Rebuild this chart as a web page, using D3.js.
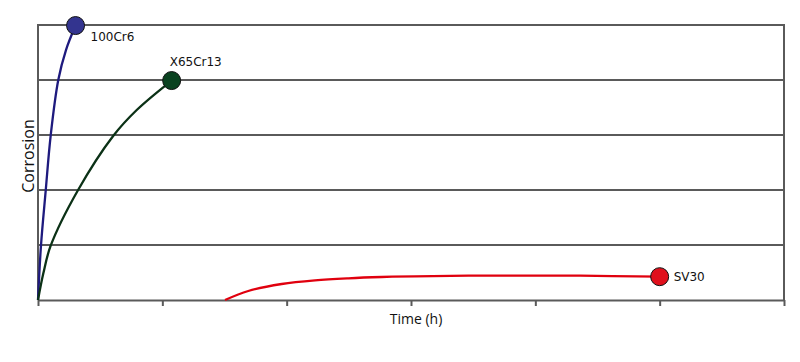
<!DOCTYPE html>
<html><head><meta charset="utf-8">
<script src="https://cdn.jsdelivr.net/npm/d3@7"></script>
<style>body{margin:0;background:#fff}svg{display:block}</style>
</head><body><svg id="c" width="800" height="362"></svg>
<script>
// Data (x: time units, y: corrosion units)
const seriesNames = ["100Cr6", "X65Cr13", "SV30"];
const x100Cr6 = [0, 0.024, 0.062, 0.102, 0.163, 0.225, 0.302];
const y100Cr6 = [0, 0.99, 1.99, 2.99, 4, 4.545, 4.99];
const xX65Cr13 = [0, 0.043, 0.102, 0.319, 0.606, 0.794, 1.075];
const yX65Cr13 = [0, 0.485, 0.987, 1.987, 2.987, 3.455, 3.99];
const xSV30 = [1.504, 1.691, 1.960, 2.228, 2.496, 2.764, 3.032, 3.716, 4.36, 5.0];
const ySV30 = [0, 0.164, 0.291, 0.358, 0.395, 0.418, 0.431, 0.445, 0.442, 0.424];
const xTicks = [0, 1, 2, 3, 4, 5, 6];
const yGrid = [0, 1, 2, 3, 4, 5];

const lineColors = ["#1e1a7e", "#0b3116", "#e0000e"];
const markerColors = ["#33348f", "#0a4220", "#e0101c"];

const svg = d3.select("#c");
const x = d3.scaleLinear().domain([0, 6]).range([38, 784]);
const y = d3.scaleLinear().domain([0, 5]).range([300, 25]);
const grey = "#5a5a5a";

// horizontal grid (includes top border)
svg.append("g").selectAll("line").data(yGrid.slice(1)).join("line")
  .attr("x1", x(0)).attr("x2", x(6))
  .attr("y1", d => y(d)).attr("y2", d => y(d))
  .attr("stroke", grey).attr("stroke-width", 2);

// bottom axis
const xAxis = svg.append("g").attr("transform", `translate(0,${y(0)})`)
  .call(d3.axisBottom(x).tickValues(xTicks).tickSize(6).tickSizeOuter(0).tickFormat(""));
xAxis.select(".domain").attr("stroke", grey).attr("stroke-width", 2);
xAxis.selectAll(".tick line").attr("stroke", grey).attr("stroke-width", 2);

// left & right borders
[0, 6].forEach(v => {
  svg.append("line").attr("x1", x(v)).attr("x2", x(v))
    .attr("y1", y(5) - 1).attr("y2", y(0))
    .attr("stroke", grey).attr("stroke-width", 2);
});

const data = [
  x100Cr6.map((d, i) => [d, y100Cr6[i]]),
  xX65Cr13.map((d, i) => [d, yX65Cr13[i]]),
  xSV30.map((d, i) => [d, ySV30[i]])
];

const line = d3.line().x(d => x(d[0])).y(d => y(d[1])).curve(d3.curveCatmullRom.alpha(0.5));
data.forEach((pts, i) => {
  svg.append("path").attr("d", line(pts)).attr("fill", "none")
    .attr("stroke", lineColors[i]).attr("stroke-width", 2.3);
});

const labelOffsets = [[15, 15], [-2, -15], [14, 4]];
data.forEach((pts, i) => {
  const p = pts[pts.length - 1];
  svg.append("circle").attr("cx", x(p[0])).attr("cy", y(p[1])).attr("r", 9)
    .attr("fill", markerColors[i]).attr("stroke", "#111").attr("stroke-width", 1);
  svg.append("text").attr("x", x(p[0]) + labelOffsets[i][0]).attr("y", y(p[1]) + labelOffsets[i][1])
    .attr("font-family", "DejaVu Sans").attr("font-size", 12).attr("fill", "#111")
    .text(seriesNames[i]);
});

// axis titles
svg.append("text").attr("x", 416).attr("y", 324).attr("text-anchor", "middle")
  .attr("font-family", "Open Sans").attr("font-size", 14).attr("fill", "#111").text("Time (h)");
svg.append("text").attr("transform", "translate(34,156) rotate(-90)").attr("text-anchor", "middle")
  .attr("font-family", "Open Sans").attr("font-size", 16).attr("fill", "#111").text("Corrosion");
</script></body></html>
